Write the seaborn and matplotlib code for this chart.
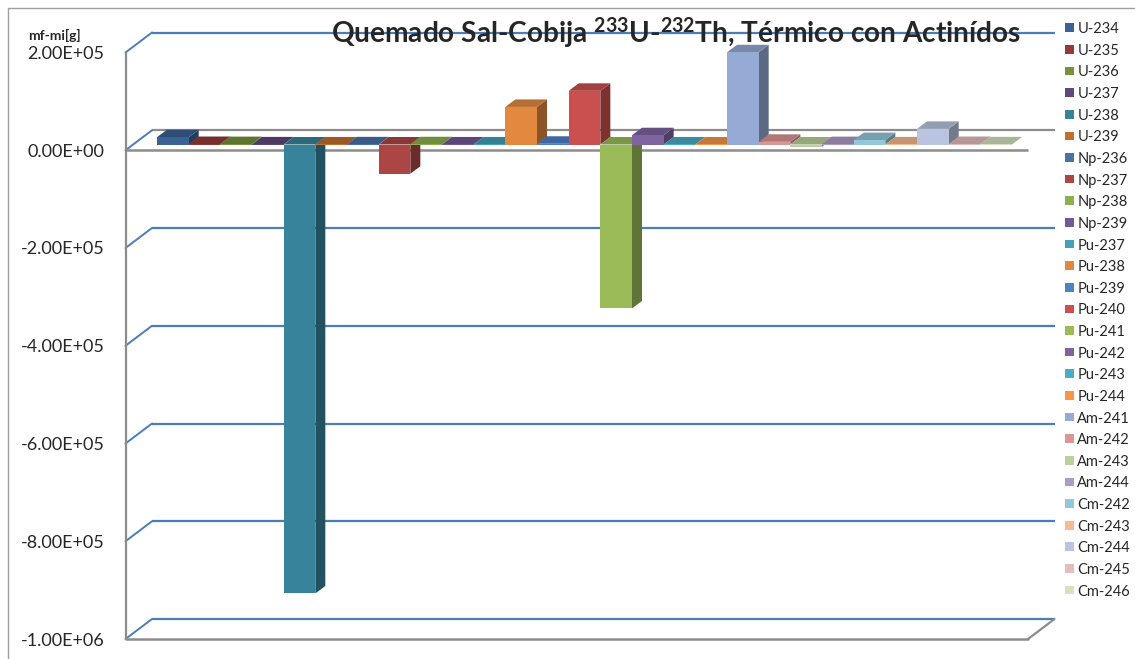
import numpy as np
import pandas as pd
import matplotlib
matplotlib.use("Agg")
import matplotlib.pyplot as plt
import seaborn as sns
from matplotlib.patches import Polygon, Rectangle
from matplotlib.lines import Line2D
from matplotlib.colors import to_rgb

# ---- data -------------------------------------------------------------
isotopes = ["U-234", "U-235", "U-236", "U-237", "U-238", "U-239",
            "Np-236", "Np-237", "Np-238", "Np-239",
            "Pu-237", "Pu-238", "Pu-239", "Pu-240", "Pu-241", "Pu-242", "Pu-243", "Pu-244",
            "Am-241", "Am-242", "Am-243", "Am-244",
            "Cm-242", "Cm-243", "Cm-244", "Cm-245", "Cm-246"]
mass_change = [1.5e4, 1.0e3, 8.0e2, 2.0e2, -9.2e5, 1.0e2,
               3.0e2, -6.0e4, 5.0e2, 1.0e2,
               1.0e2, 7.7e4, 1.5e3, 1.10e5, -3.36e5, 1.9e4, 1.0e2, 1.0e1,
               1.89e5, 5.5e3, -4.5e3, 8.0e2,
               9.0e3, 2.0e2, 3.2e4, 1.0e3, 3.0e2]
colors = ["#3B6195", "#943B38", "#76923C", "#5F497A", "#37849A", "#C0712F",
          "#4A72AA", "#AC4644", "#8DB04E", "#735A96",
          "#45A0B8", "#E3893F", "#4F81C8", "#C9504E", "#9BBB59", "#8064A2", "#4BACC6", "#F79646",
          "#95AAD4", "#D99694", "#BBD19B", "#AE9CC5",
          "#93C8DA", "#F9B98E", "#B9C5E0", "#E4BDBD", "#D4E2C0"]
yticks = [-1.0e6, -8.0e5, -6.0e5, -4.0e5, -2.0e5, 0.0, 2.0e5]
ylabel = "mf-mi[g]"

df = pd.DataFrame({"isotope": isotopes, "value": mass_change})

# ---- style ------------------------------------------------------------
sns.set_style("white")
plt.rcParams["font.family"] = ["Lato", "DejaVu Sans"]
plt.rcParams["mathtext.fontset"] = "custom"
plt.rcParams["mathtext.rm"] = "Lato:bold"
plt.rcParams["mathtext.bf"] = "Lato:bold"
plt.rcParams["mathtext.default"] = "rm"

W, H = 1135, 659
fig = plt.figure(figsize=(W / 100, H / 100), dpi=100)
fig.patch.set_facecolor("white")


def fbox(x0, y0, x1, y1):
    """pixel box (top-left origin) -> figure fraction rect"""
    return [x0 / W, 1 - y1 / H, (x1 - x0) / W, (y1 - y0) / H]


def fpt(x, y):
    return x / W, 1 - y / H


GRAY = "#8C8C8C"
BLUE = "#4A7EBB"

# chart area border (top and left edges)
fig.add_artist(Line2D([fpt(7.5, 0)[0], 1.0], [fpt(0, 7.5)[1]] * 2, color="#A0A0A0", lw=1.0))
fig.add_artist(Line2D([fpt(7.5, 0)[0]] * 2, [fpt(0, 7.5)[1], 0.0], color="#A0A0A0", lw=1.0))

# ---- front plane axis with walls and grid -----------------------------
ax = fig.add_axes(fbox(125.5, 52.5, 1028, 639))
ax.set_facecolor("none")
ax.set_xlim(0, 1)
ax.set_ylim(-1.0e6, 2.0e5)
for s in ["top", "right", "bottom"]:
    ax.spines[s].set_visible(False)
ax.spines["left"].set_color(GRAY)
ax.spines["left"].set_linewidth(1.6)
ax.set_xticks([])
ax.set_yticks(yticks)
ax.set_yticklabels(["%.2E" % v for v in yticks], fontsize=13)
ax.tick_params(axis="y", direction="out", length=5, width=1.4, color=GRAY, pad=10)

# depth offset of the back wall, in data units of the front axis
ax_w_px, ax_h_px = 1028 - 125.5, 639 - 52.5
dxw = 26.5 / ax_w_px
dyw = 20.0 * 1.2e6 / ax_h_px
for v in yticks:
    col = GRAY if v == 0 else BLUE
    ax.plot([dxw, 1 + dxw], [v + dyw, v + dyw], color=col, lw=1.6, clip_on=False, zorder=1,
            solid_capstyle="butt")
    ax.plot([0, dxw], [v, v + dyw], color=BLUE, lw=1.4, clip_on=False, zorder=1)
# front zero line and floor edges
ax.plot([0, 1], [0, 0], color=GRAY, lw=1.8, clip_on=False, zorder=1, solid_capstyle="butt")
ax.plot([0, 1], [-1.0e6, -1.0e6], color=GRAY, lw=1.8, clip_on=False, zorder=1)
ax.plot([1, 1 + dxw], [-1.0e6, -1.0e6 + dyw], color=GRAY, lw=1.6, clip_on=False, zorder=1)

# ---- bars -------------------------------------------------------------
ax_b = fig.add_axes(fbox(157, 144.5 - 97.6, 1012, 144.5 + 488.0))
ax_b.set_facecolor("none")
sns.barplot(data=df, x="isotope", y="value", hue="isotope", palette=colors,
            order=isotopes, hue_order=isotopes, width=1.0, saturation=1,
            linewidth=0, legend=False, ax=ax_b)
ax_b.set_xlim(-0.5, len(isotopes) - 0.5)
ax_b.set_ylim(-1.0e6, 2.0e5)
ax_b.axis("off")

bars = sorted(ax_b.patches, key=lambda p: p.get_x())
bw_px = (1012 - 157) / len(isotopes)
ddx = 10.0 / bw_px              # bar depth, x (data units)
ddy = 7.5 * 1.2e6 / 585.6       # bar depth, y (data units)


def shade(c, f):
    r, g, b = to_rgb(c)
    return (r * f, g * f, b * f)


for i, p in enumerate(bars):
    c = p.get_facecolor()
    x0, x1 = p.get_x(), p.get_x() + p.get_width()
    y0, y1 = p.get_y(), p.get_y() + p.get_height()
    lo, hi = min(y0, y1), max(y0, y1)
    z = 3 + i * 0.01
    p.set_zorder(z + 0.005)
    side = Polygon([(x1, hi), (x1 + ddx, hi + ddy), (x1 + ddx, lo + ddy), (x1, lo)],
                   closed=True, facecolor=shade(c, 0.62), edgecolor="none", zorder=z,
                   clip_on=False)
    top = Polygon([(x0, hi), (x1, hi), (x1 + ddx, hi + ddy), (x0 + ddx, hi + ddy)],
                  closed=True, facecolor=shade(c, 0.8), edgecolor="none", zorder=z + 0.003,
                  clip_on=False)
    ax_b.add_patch(side)
    ax_b.add_patch(top)
    p.set_clip_on(False)

# ---- texts ------------------------------------------------------------
fig.text(*fpt(676, 42.5), "Quemado Sal-Cobija $^{233}$U-$^{232}$Th, Térmico con Actinídos",
         ha="center", va="baseline", fontsize=20.2, fontweight="bold", zorder=10)
fig.text(*fpt(28, 35), ylabel, ha="left", va="center", fontsize=10, fontweight="bold")

# legend: one row per isotope, colour key taken from the drawn bars
row0, row_step, key = 27.7, 21.63, 8.7
for i, (p, name) in enumerate(zip(bars, isotopes)):
    cy = row0 + i * row_step
    fig.add_artist(Rectangle(fpt(1065, cy + key / 2), key / W, key / H,
                             transform=fig.transFigure, facecolor=p.get_facecolor(),
                             edgecolor="none"))
    fig.text(*fpt(1077.3, cy), name, ha="left", va="center_baseline", fontsize=10.5)

fig.savefig("out.png", dpi=100)
